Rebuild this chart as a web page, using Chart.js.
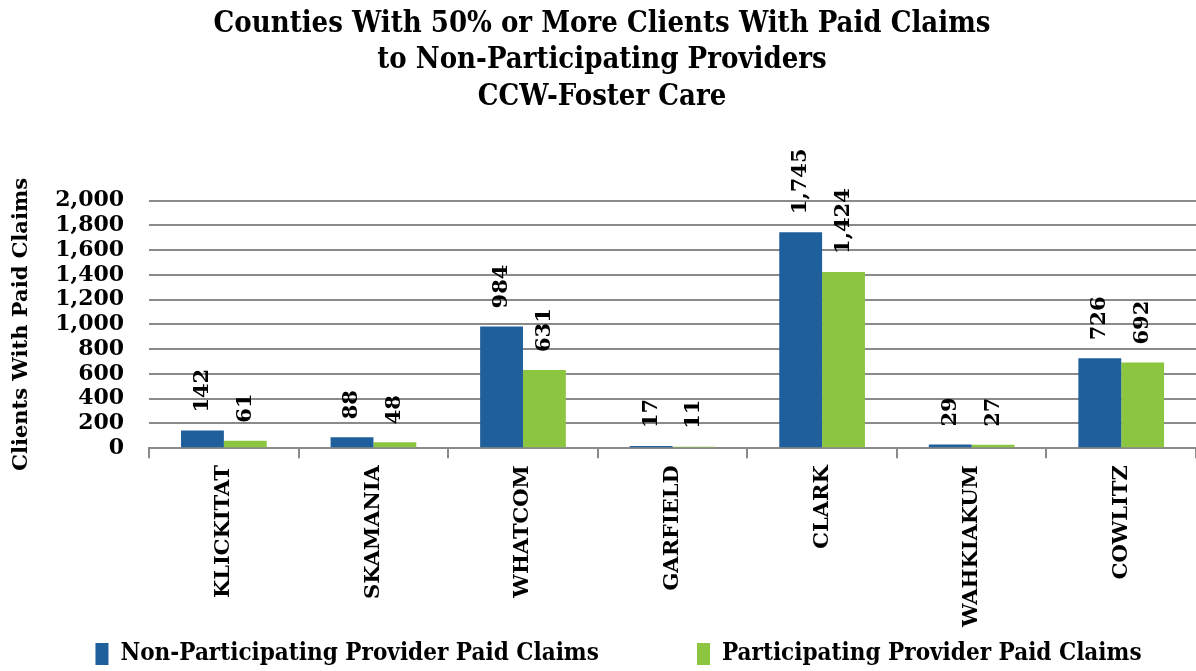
<!DOCTYPE html>
<html>
<head>
<meta charset="utf-8">
<script src="https://cdn.jsdelivr.net/npm/chart.js@4.4.1/dist/chart.umd.min.js"></script>
<style>
  html, body { margin: 0; padding: 0; background: #ffffff; }
  #wrap { width: 1196px; height: 671px; position: relative; }
</style>
</head>
<body>
<div id="wrap"><canvas id="c"></canvas></div>
<script>
const categories = ['KLICKITAT', 'SKAMANIA', 'WHATCOM', 'GARFIELD', 'CLARK', 'WAHKIAKUM', 'COWLITZ'];
const nonParticipating = [142, 88, 984, 17, 1745, 29, 726];
const participating = [61, 48, 631, 11, 1424, 27, 692];
const seriesNames = ['Non-Participating Provider Paid Claims', 'Participating Provider Paid Claims'];
const titleLines = ['Counties With 50% or More Clients With Paid Claims', 'to Non-Participating Providers', 'CCW-Foster Care'];
const yAxisTitle = 'Clients With Paid Claims';

const SERIF = "'DejaVu Serif', serif";
const SERIF_COND = "'DejaVu Serif Condensed', 'DejaVu Serif', serif";
const fmt = v => v.toLocaleString('en-US');

const valueLabels = {
  id: 'valueLabels',
  afterDatasetsDraw(chart) {
    const ctx = chart.ctx;
    ctx.save();
    ctx.font = "bold 21px 'DejaVu Serif', serif";
    ctx.fillStyle = '#000000';
    ctx.textAlign = 'left';
    ctx.textBaseline = 'middle';
    chart.data.datasets.forEach((ds, di) => {
      const meta = chart.getDatasetMeta(di);
      meta.data.forEach((el, i) => {
        ctx.save();
        ctx.translate(el.x, el.y - 18);
        ctx.rotate(-Math.PI / 2);
        ctx.fillText(fmt(ds.data[i]), 0, 0);
        ctx.restore();
      });
    });
    ctx.restore();
  }
};

new Chart(document.getElementById('c'), {
  type: 'bar',
  data: {
    labels: categories,
    datasets: [
      { label: seriesNames[0] + '            ', data: nonParticipating, backgroundColor: '#1f5f9c', borderWidth: 0 },
      { label: seriesNames[1], data: participating, backgroundColor: '#8cc53f', borderWidth: 0 }
    ]
  },
  options: {
    responsive: true,
    maintainAspectRatio: false,
    animation: false,
    layout: { padding: { left: 8, right: 0, top: 0, bottom: -5 } },
    datasets: { bar: { categoryPercentage: 0.573, barPercentage: 1.0 } },
    plugins: {
      title: {
        display: true,
        text: titleLines,
        color: '#000000',
        font: { family: SERIF_COND, size: 29, weight: 'bold', lineHeight: 1.26 },
        padding: { top: 6, bottom: 85 }
      },
      legend: {
        display: true,
        position: 'bottom',
        labels: {
          color: '#000000',
          font: { family: SERIF_COND, size: 24, weight: 'bold' },
          boxWidth: 13,
          boxHeight: 22,
          padding: 8,
          generateLabels(chart) {
            const items = Chart.defaults.plugins.legend.labels.generateLabels(chart);
            items.unshift({ text: '', fillStyle: 'rgba(0,0,0,0)', strokeStyle: 'rgba(0,0,0,0)', lineWidth: 0, hidden: false, datasetIndex: -1 });
            return items;
          }
        }
      },
      tooltip: { enabled: false }
    },
    scales: {
      x: {
        grid: {
          display: true,
          drawOnChartArea: false,
          drawTicks: true,
          tickLength: 10,
          color: '#8a8a8a',
          lineWidth: 2,
          offset: true
        },
        border: { display: true, color: '#8a8a8a', width: 2 },
        ticks: {
          color: '#000000',
          font: { family: SERIF, size: 21, weight: 'bold' },
          maxRotation: 90,
          minRotation: 90,
          padding: 7
        }
      },
      y: {
        min: 0,
        max: 2000,
        ticks: {
          stepSize: 200,
          autoSkip: false,
          color: '#000000',
          font: { family: SERIF, size: 22, weight: 'bold' },
          padding: 25,
          callback: v => fmt(v)
        },
        grid: { color: '#8a8a8a', lineWidth: 2, drawTicks: false },
        border: { display: false },
        title: {
          display: true,
          text: yAxisTitle,
          color: '#000000',
          font: { family: SERIF, size: 21, weight: 'bold' },
          padding: { top: 1, bottom: -4 }
        }
      }
    }
  },
  plugins: [valueLabels]
});
</script>
</body>
</html>
